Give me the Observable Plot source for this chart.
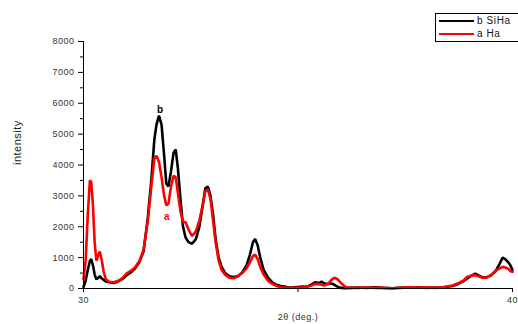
<!DOCTYPE html>
<html><head><meta charset="utf-8">
<script src="https://cdn.jsdelivr.net/npm/d3@7"></script>
<script src="https://cdn.jsdelivr.net/npm/@observablehq/plot@0.6"></script>
<style>
body{margin:0;background:#fff;font-family:"Liberation Sans",Arial,sans-serif;}
#wrap{position:relative;width:518px;height:324px;overflow:hidden;}
#legend{position:absolute;left:435px;top:13px;width:100px;height:27px;border:1px solid #000;background:#fff;font-size:10px;letter-spacing:0.6px;color:#111;}
#legend .row{position:absolute;left:3px;height:12px;line-height:12px;white-space:nowrap;}
#legend .sw{display:inline-block;width:35px;height:2px;vertical-align:middle;margin-right:3px;}
</style></head>
<body><div id="wrap"><div id="chart"></div>
<div id="legend">
<div class="row" style="top:1px"><span class="sw" style="background:#000"></span>b SiHa</div>
<div class="row" style="top:14px"><span class="sw" style="background:#f00"></span>a Ha</div>
</div></div>
<script>
const twoTheta = [30.00,30.05,30.10,30.15,30.18,30.22,30.26,30.30,30.35,30.38,30.42,30.47,30.52,30.60,30.70,30.80,30.90,31.00,31.10,31.20,31.30,31.40,31.50,31.58,31.65,31.70,31.76,31.82,31.88,31.93,31.98,32.04,32.10,32.15,32.20,32.26,32.32,32.38,32.45,32.53,32.62,32.70,32.78,32.84,32.90,32.96,33.02,33.08,33.15,33.22,33.30,33.40,33.50,33.60,33.70,33.80,33.88,33.95,34.00,34.06,34.12,34.20,34.30,34.40,34.50,34.60,34.70,34.80,34.90,35.00,35.10,35.20,35.30,35.40,35.50,35.55,35.62,35.70,35.78,35.85,35.92,36.00,36.10,36.20,36.40,36.60,36.80,37.00,37.20,37.40,37.60,37.80,38.00,38.20,38.40,38.60,38.72,38.85,38.95,39.05,39.13,39.20,39.30,39.40,39.50,39.60,39.70,39.77,39.83,39.90,39.95,40.00];
const siha = [50,250,600,900,950,750,450,300,350,400,330,280,230,200,180,220,300,420,520,650,850,1200,2300,3500,4800,5300,5600,5300,4300,3400,3300,3800,4400,4500,3900,2900,2000,1650,1500,1450,1600,2000,2700,3250,3300,3000,2400,1600,1000,700,500,400,370,400,520,750,1100,1500,1600,1400,1000,600,350,200,120,80,60,30,40,50,60,50,120,200,180,220,160,150,160,120,60,20,10,20,30,20,40,20,10,30,30,40,20,30,40,80,140,230,330,420,480,430,360,360,430,550,800,1000,950,850,750,600];
const ha = [300,900,2400,3500,3450,2700,1500,900,1100,1200,950,550,300,220,200,240,330,480,570,680,880,1250,2200,3300,4200,4300,4100,3600,3000,2700,2750,3300,3650,3600,3100,2500,2150,2150,1900,1700,1850,2200,2700,3150,3200,2900,2200,1500,900,600,450,350,330,400,500,650,850,1050,1100,950,700,450,250,150,80,40,30,20,30,20,40,60,90,150,140,120,100,150,280,350,300,180,60,20,20,30,20,20,10,20,40,30,40,20,50,100,160,250,380,420,430,400,350,360,430,570,650,700,680,640,560,540];
const seriesNames = ["b SiHa","a Ha"];
const labelText = ["b","a"];
const labelX = [31.79,31.95];
const labelY = [5800,2330];
const yTicks = [0,1000,2000,3000,4000,5000,6000,7000,8000];
const yMinor = [500,1500,2500,3500,4500,5500,6500,7500];
const xTicks = [30,35,40];
const xTickLabels = ["30","","40"];

const rows = [];
twoTheta.forEach((x,i)=>{rows.push({x,y:siha[i],s:seriesNames[0]});});
twoTheta.forEach((x,i)=>{rows.push({x,y:ha[i],s:seriesNames[1]});});
const labels = labelText.map((t,i)=>({t,x:labelX[i],y:labelY[i],c:i===0?"#000":"#f00"}));

const chart = Plot.plot({
  width:518, height:324,
  marginLeft:83, marginRight:6, marginTop:41, marginBottom:36,
  style:{fontFamily:"'Liberation Sans',Arial,sans-serif",background:"#fff"},
  x:{domain:[30,40]},
  y:{domain:[0,8000]},
  color:{domain:seriesNames, range:["#000","#f00"]},
  marks:[
    Plot.lineY(rows,{x:"x",y:"y",stroke:"s",strokeWidth:2.6,curve:"linear",strokeLinejoin:"miter"}),
    Plot.text(labels,{x:"x",y:"y",text:"t",fill:"c",fontSize:10,fontWeight:"bold"}),
    Plot.ruleX([30],{y1:0,y2:8000,stroke:"#000",strokeWidth:1}),
    Plot.ruleY([0],{stroke:"#000",strokeWidth:1}),
    Plot.axisY(yTicks,{tickSize:5,tickPadding:4,fontSize:9,fill:"#333",label:null,tickFormat:d=>String(d)}),
    Plot.axisY(yMinor,{tickSize:3,tickFormat:()=>"",label:null}),
    Plot.text(["intensity"],{frameAnchor:"left",dx:-66,rotate:-90,fontSize:11,fill:"#222"}),
    Plot.axisX(xTicks,{tickSize:4,tickPadding:4,fontSize:9,fill:"#333",tickFormat:(d,i)=>xTickLabels[xTicks.indexOf(d)],label:"2θ (deg.)",labelAnchor:"center",labelArrow:"none",labelOffset:31})
  ]
});
chart.querySelectorAll("text").forEach(t=>t.style.letterSpacing="0.5px");
document.getElementById("chart").appendChild(chart);
</script></body></html>
